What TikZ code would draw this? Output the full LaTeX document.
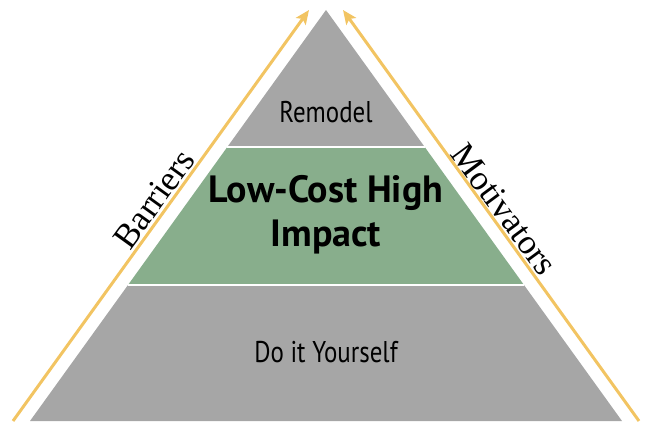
\documentclass[tikz,border=0pt]{standalone}
\usepackage{fontspec}
\setmainfont{Liberation Serif}
\newfontfamily\tierfont[FakeStretch=0.83]{PT Sans}
\newfontfamily\boldtierfont{PT Sans Bold}
\usetikzlibrary{arrows.meta}

\tikzset{every picture/.style={line width=0.5pt}}
\tikzset{
  graytier/.style={fill={rgb, 255:red, 166; green, 166; blue, 166 }, draw=none},
  greentier/.style={fill={rgb, 255:red, 136; green, 174; blue, 140 }, draw=none},
  divider/.style={draw=white, line width=1.5},
  sidearrow/.style={draw={rgb, 255:red, 242; green, 196; blue, 98 }, line width=3,
    -{Stealth[length=14,width=12,inset=3]}},
  tierlabel/.style={inner sep=0.75pt, font=\tierfont\fontsize{30}{32}\selectfont},
  boldlabel/.style={inner sep=0.75pt, align=center, font=\boldtierfont\fontsize{38}{44}\selectfont},
  sidelabel/.style={inner sep=0.75pt, font=\fontsize{35}{38}\selectfont},
}

\begin{document}
\begin{tikzpicture}[x=1pt,y=1pt]
\useasboundingbox (0,0) rectangle (647,421);

% corners of the pyramid
\coordinate (apex) at (326,411);
\coordinate (baseL) at (30,0);
\coordinate (baseR) at (622,0);
\coordinate (midL) at (128,136);
\coordinate (midR) at (524,136);
\coordinate (topL) at (227.3,274);
\coordinate (topR) at (424.7,274);

%Tiers
\path [graytier] (baseL) -- (baseR) -- (midR) -- (midL) -- cycle ;
\path [greentier] (midL) -- (midR) -- (topR) -- (topL) -- cycle ;
\path [graytier] (topL) -- (topR) -- (apex) -- cycle ;
%Dividers
\draw [divider] (midL) -- (midR) ;
\draw [divider] (topL) -- (topR) ;

%Side arrows
\coordinate (barstart) at (13,0);
\coordinate (bartip) at (309,411);
\coordinate (motstart) at (639,0);
\coordinate (mottip) at (343,411);
\draw [sidearrow] (barstart) -- (bartip) ;
\draw [sidearrow] (motstart) -- (mottip) ;

% Text Node
\node [tierlabel] (remodel) at (326,309) {Remodel};
% Text Node
\node [boldlabel] (lowcost) at (326,206) {Low-Cost High\\Impact};
% Text Node
\node [tierlabel] (diy) at (326,69) {Do it Yourself};
% Text Node
\node [sidelabel, rotate=54.2] (barriers) at (154,222) {Barriers};
% Text Node
\node [sidelabel, rotate=-53.5] (motivators) at (504,212) {Motivators};
\end{tikzpicture}
\end{document}
